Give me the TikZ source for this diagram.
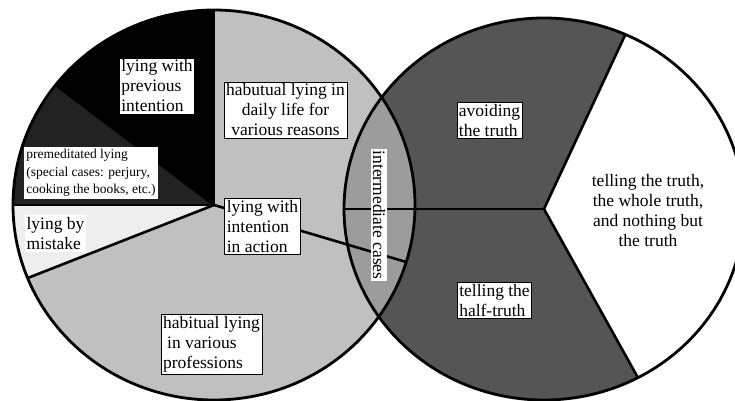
\documentclass[tikz,border=0pt]{standalone}
\usepackage{fontspec}
\setmainfont{Liberation Serif}
\usetikzlibrary{calc}
\definecolor{piegrey}{HTML}{C0C0C0}
\definecolor{piedark}{HTML}{222222}
\definecolor{pielight}{HTML}{EEEEEE}
\definecolor{truthdark}{HTML}{555555}
\definecolor{lensgrey}{HTML}{9C9C9C}
\tikzset{
  box/.style={draw=black, fill=white, line width=0.6pt, align=left, inner sep=2pt, font=\fontsize{17.5}{20}\selectfont},
  plainbox/.style={fill=white, align=left, inner sep=2pt, font=\fontsize{17.5}{20}\selectfont},
  smallbox/.style={fill=white, align=left, inner sep=2pt, font=\fontsize{13.5}{17.5}\selectfont},
  edge/.style={line width=2.6pt},
  rim/.style={line width=2.8pt}
}

\begin{document}
\begin{tikzpicture}[x=1pt, y=1pt]
\useasboundingbox (0,0) rectangle (735,400);
\clip (0,0) rectangle (735,400);
\coordinate (lc) at (214,195);
\coordinate (rc) at (544,191);
% lying circle
\fill[piegrey] (lc) ellipse [x radius=201, y radius=195];
\fill[black] (lc) -- ++(90:201 and 195) arc[start angle=90, end angle=142, x radius=201, y radius=195] -- cycle;
\fill[piedark] (lc) -- ++(142:201 and 195) arc[start angle=142, end angle=180, x radius=201, y radius=195] -- cycle;
\fill[pielight] (lc) -- ++(180:201 and 195) arc[start angle=180, end angle=202, x radius=201, y radius=195] -- cycle;
% truth circle
\fill[white] (rc) ellipse [x radius=200, y radius=191];
\fill[truthdark] (rc) -- ++(66:200 and 191) arc[start angle=66, end angle=298, x radius=200, y radius=191] -- cycle;
% overlap
\begin{scope}
  \clip (lc) ellipse [x radius=201, y radius=195];
  \fill[lensgrey] (rc) ellipse [x radius=200, y radius=191];
\end{scope}
\foreach \a in {90,142,180,202,343}
  \draw[edge] (lc) -- ++(\a:201 and 195);
\foreach \a in {66,180,298}
  \draw[edge] (rc) -- ++(\a:200 and 191);
\draw[rim] (lc) ellipse [x radius=201, y radius=195];
\draw[rim] (rc) ellipse [x radius=200, y radius=191];
% labels
\node[box] (previous) at (157,314) {lying with\\previous\\intention};
\node[box, align=center] (daily) at (285.5,290) {habutual lying in\\daily life for\\various reasons};
\node[smallbox] (premed) at (91,227) {premeditated lying\\(special cases: perjury,\\cooking the books, etc.)};
\node[plainbox] (mistake) at (55.5,166.5) {lying by\\mistake};
\node[box] (action) at (262.5,173.5) {lying with\\intention\\in action};
\node[box] (profs) at (211.5,55.5) {habitual lying\\\hspace{4pt}in various\\professions};
\node[plainbox, rotate=-90] (mid) at (379,185) {intermediate cases};
\node[box] (avoid) at (489.5,279.5) {avoiding\\the truth};
\node[box] (half) at (494.5,99.5) {telling the\\half-truth};
\node[plainbox, fill=none, align=center] (whole) at (648,189) {telling the truth,\\the whole truth,\\and nothing but\\the truth};
\end{tikzpicture}
\end{document}
